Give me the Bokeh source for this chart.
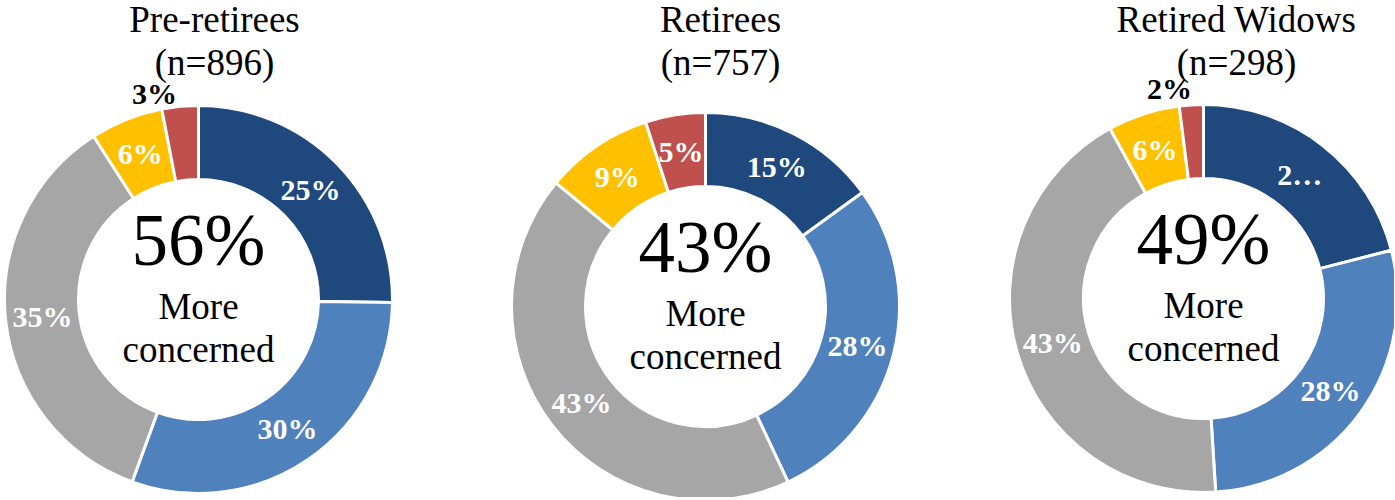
import math
from bokeh.plotting import figure
from bokeh.models import Range1d, ColumnDataSource
from bokeh.core.properties import value
from bokeh.embed import file_html
from bokeh.resources import INLINE

# ---------------- data ----------------
groups = ["Pre-retirees", "Retirees", "Retired Widows"]
sample_sizes = [896, 757, 298]
more_concerned = [56, 43, 49]
pre_retirees = [25, 30, 35, 6, 3]
retirees = [15, 28, 43, 9, 5]
retired_widows = [21, 28, 43, 6, 2]
slice_colors = ["#1F497D", "#4F81BD", "#A6A6A6", "#FFC000", "#C0504D"]

series = [pre_retirees, retirees, retired_widows]

# ---------------- layout (page pixel coordinates) ----------------
W, H = 1394, 497
X0, Y0 = 1, 2          # where the plot frame lands on the photographed page
centers_x = [199, 706, 1204]
centers_y = [301, 308, 300]
title_x = [215, 721, 1237]
title_y = [21, 64]
R_OUT, R_IN = 194, 120
R_LAB = 157
# small slices whose labels sit outside the ring: (group, slice) -> pixel offset
outside = {(0, 4): (-44, -206), (2, 4): (-34, -210)}
# labels truncated by the chart (not enough room)
truncated = {(2, 0): "2\u2026"}

FONT = value("'Liberation Serif', 'Times New Roman', serif")

p = figure(width=W, height=H, output_backend="svg", toolbar_location=None,
           x_range=Range1d(X0, X0 + W), y_range=Range1d(500 - Y0 - H, 500 - Y0),
           x_axis_type=None, y_axis_type=None, min_border=0)
p.outline_line_color = None
p.xgrid.visible = False
p.ygrid.visible = False


def Y(py):
    return 500 - py


for gi, vals in enumerate(series):
    cx, cy = centers_x[gi], Y(centers_y[gi])
    total = float(sum(vals))
    starts, ends, lx, ly, ltxt, lcol = [], [], [], [], [], []
    cum = 0.0
    for si, v in enumerate(vals):
        a0 = math.pi / 2 - 2 * math.pi * cum / total
        cum += v
        a1 = math.pi / 2 - 2 * math.pi * cum / total
        starts.append(a0)
        ends.append(a1)
        mid = (a0 + a1) / 2
        txt = truncated.get((gi, si), f"{v}%")
        if (gi, si) in outside:
            dx, dy = outside[(gi, si)]
            lx.append(centers_x[gi] + dx)
            ly.append(Y(centers_y[gi] + dy))
            lcol.append("black")
        else:
            lx.append(cx + R_LAB * math.cos(mid))
            ly.append(cy + R_LAB * math.sin(mid))
            lcol.append("white")
        ltxt.append(txt)
    src = ColumnDataSource(dict(x=[cx] * len(vals), y=[cy] * len(vals),
                                start=starts, end=ends, color=slice_colors[:len(vals)]))
    p.annular_wedge(x="x", y="y", inner_radius=R_IN, outer_radius=R_OUT,
                    start_angle="start", end_angle="end", direction="clock",
                    fill_color="color", line_color="white", line_width=3, source=src)
    lsrc = ColumnDataSource(dict(x=lx, y=ly, text=ltxt, color=lcol))
    p.text(x="x", y="y", text="text", text_color="color", source=lsrc,
           text_font=FONT, text_font_style="bold", text_font_size="30px",
           text_align="center", text_baseline="middle")

    # titles
    p.text(x=[title_x[gi], title_x[gi]], y=[Y(title_y[0]), Y(title_y[1])],
           text=[groups[gi], f"(n={sample_sizes[gi]})"],
           text_font=FONT, text_font_size="37px", text_color="black",
           text_align="center", text_baseline="middle")
    # center
    p.text(x=[centers_x[gi]], y=[Y(centers_y[gi] - 59)],
           text=[f"{more_concerned[gi]}%"],
           text_font=FONT, text_font_size="73px", text_color="black",
           text_align="center", text_baseline="middle")
    p.text(x=[centers_x[gi], centers_x[gi]],
           y=[Y(centers_y[gi] + 7), Y(centers_y[gi] + 50)],
           text=["More", "concerned"],
           text_font=FONT, text_font_size="37px", text_color="black",
           text_align="center", text_baseline="middle")

open("out.html", "w").write(file_html(p, INLINE))
